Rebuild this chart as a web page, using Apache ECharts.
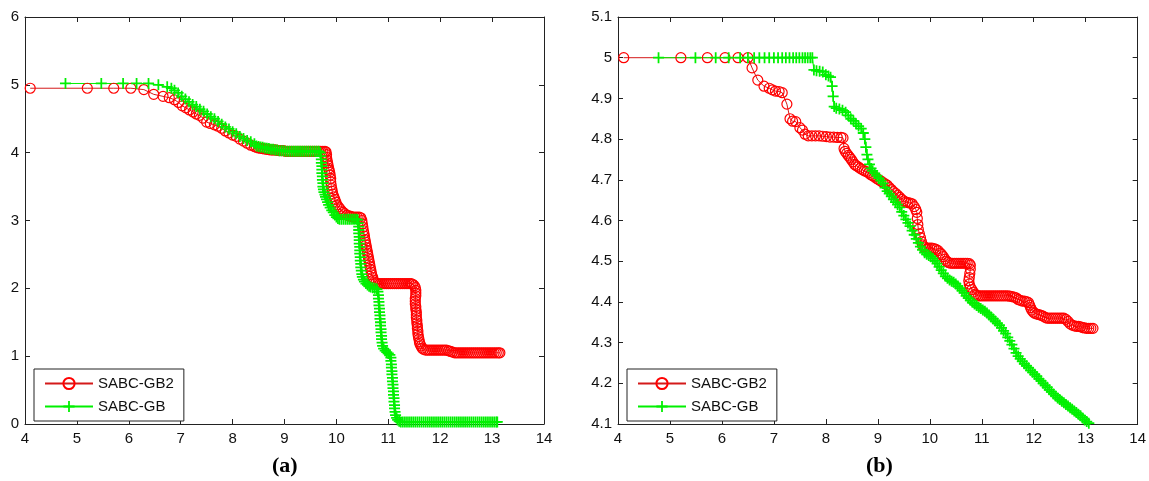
<!DOCTYPE html>
<html>
<head>
<meta charset="utf-8">
<script src="https://cdn.jsdelivr.net/npm/echarts@6/dist/echarts.min.js"></script>
<style>
  html, body { margin: 0; padding: 0; background: #fff; }
  #chart { width: 1149px; height: 481px; }
</style>
</head>
<body>
<div id="chart"></div>
<script>
// series names
var names = ['SABC-GB2', 'SABC-GB'];
var captions = ['(a)', '(b)'];

// panel (a) : [x, y]
var gb2A = [
  [4.1,4.95],[5.2,4.95],[5.71,4.95],[6.04,4.95],[6.29,4.93],[6.48,4.86],[6.66,4.83],[6.78,4.81],[6.88,4.78],
  [6.96,4.74],[7.03,4.69],[7.1,4.66],[7.17,4.63],[7.24,4.6],[7.3,4.57],[7.36,4.55],[7.43,4.51],[7.5,4.45],
  [7.57,4.43],[7.65,4.41],[7.72,4.39],[7.79,4.36],[7.86,4.32],[7.93,4.29],[8.0,4.26],[8.07,4.24],[8.14,4.2],
  [8.21,4.17],[8.28,4.14],[8.35,4.11],[8.42,4.09],[8.46,4.08],[8.5,4.07],[8.54,4.065],[8.58,4.06],[8.62,4.055],
  [8.66,4.05],[8.7,4.045],[8.74,4.04],[8.78,4.04],[8.82,4.04],[8.86,4.035],[8.9,4.03],[8.94,4.03],[8.98,4.03],
  [9.02,4.02],[9.06,4.02],[9.1,4.02],[9.14,4.02],[9.18,4.02],[9.22,4.02],[9.26,4.02],[9.3,4.02],[9.34,4.02],
  [9.38,4.02],[9.42,4.02],[9.46,4.02],[9.5,4.02],[9.54,4.02],[9.58,4.02],[9.62,4.02],[9.66,4.02],[9.7,4.02],
  [9.74,4.02],[9.78,4.02],[9.8,4.01],
  [9.81,3.97],[9.81,3.93],[9.82,3.89],[9.83,3.85],[9.84,3.81],[9.85,3.77],[9.86,3.74],[9.87,3.71],[9.88,3.67],
  [9.89,3.62],[9.89,3.57],[9.9,3.52],[9.91,3.47],[9.92,3.43],[9.93,3.39],[9.95,3.35],[9.97,3.31],[9.99,3.27],
  [10.01,3.23],[10.04,3.2],[10.07,3.17],[10.1,3.14],[10.13,3.12],[10.16,3.1],[10.2,3.08],[10.24,3.07],
  [10.28,3.06],[10.32,3.05],[10.36,3.05],[10.4,3.05],[10.44,3.05],[10.47,3.04],
  [10.49,3.0],[10.5,2.95],[10.51,2.9],[10.52,2.85],[10.53,2.81],[10.54,2.77],[10.55,2.72],[10.56,2.68],
  [10.57,2.64],[10.58,2.6],[10.59,2.56],[10.6,2.52],[10.61,2.48],[10.62,2.44],[10.63,2.4],[10.64,2.36],
  [10.65,2.32],[10.66,2.28],[10.67,2.24],[10.68,2.2],[10.7,2.16],[10.71,2.12],[10.73,2.09],[10.76,2.08],
  [10.8,2.07],[10.84,2.07],[10.88,2.07],[10.92,2.07],[10.96,2.07],[11.0,2.07],[11.04,2.07],[11.08,2.07],
  [11.12,2.07],[11.16,2.07],[11.2,2.07],[11.24,2.07],[11.28,2.07],[11.32,2.07],[11.36,2.07],[11.4,2.07],
  [11.44,2.07],[11.47,2.06],[11.5,2.04],[11.52,2.01],
  [11.53,1.97],[11.53,1.93],[11.53,1.89],[11.52,1.85],[11.52,1.81],[11.52,1.77],[11.53,1.73],[11.53,1.69],
  [11.54,1.65],[11.54,1.61],[11.54,1.57],[11.55,1.53],[11.55,1.49],[11.56,1.45],[11.56,1.41],[11.57,1.37],
  [11.57,1.33],[11.58,1.29],[11.59,1.25],[11.6,1.21],[11.61,1.18],[11.63,1.15],[11.65,1.12],[11.68,1.1],
  [11.72,1.09],[11.76,1.09],[11.8,1.09],[11.84,1.09],[11.88,1.09],[11.92,1.09],[11.96,1.09],[12.0,1.09],
  [12.04,1.09],[12.08,1.09],[12.12,1.09],[12.16,1.08],[12.2,1.07],[12.24,1.06],[12.28,1.05],[12.32,1.05],
  [12.36,1.05],[12.4,1.05],[12.44,1.05],[12.48,1.05],[12.52,1.05],[12.56,1.05],[12.6,1.05],[12.64,1.05],
  [12.68,1.05],[12.72,1.05],[12.76,1.05],[12.8,1.05],[12.84,1.05],[12.88,1.05],[12.92,1.05],[12.96,1.05],
  [13.0,1.05],[13.04,1.05],[13.08,1.05],[13.12,1.05],[13.15,1.05]
];
var gbA = [
  [4.78,5.02],[5.47,5.02],[5.89,5.02],[6.15,5.02],[6.38,5.02],[6.57,5.0],[6.74,4.97],[6.82,4.95],[6.88,4.92],
  [6.95,4.88],[7.02,4.83],[7.09,4.79],[7.16,4.75],[7.23,4.71],[7.3,4.68],[7.37,4.64],[7.44,4.61],[7.51,4.57],
  [7.58,4.53],[7.65,4.5],[7.72,4.46],[7.79,4.42],[7.86,4.38],[7.93,4.35],[8.0,4.31],[8.07,4.28],[8.14,4.24],
  [8.21,4.21],[8.28,4.18],[8.35,4.16],[8.42,4.13],[8.46,4.1],[8.5,4.09],[8.54,4.085],[8.58,4.08],[8.62,4.07],
  [8.66,4.065],[8.7,4.06],[8.74,4.05],[8.78,4.05],[8.82,4.04],[8.86,4.04],[8.9,4.03],[8.94,4.03],[8.98,4.03],
  [9.02,4.02],[9.06,4.02],[9.1,4.02],[9.14,4.02],[9.18,4.02],[9.22,4.02],[9.26,4.02],[9.3,4.02],[9.34,4.02],
  [9.38,4.02],[9.42,4.02],[9.46,4.02],[9.5,4.02],[9.54,4.02],[9.58,4.02],[9.62,4.02],[9.66,4.02],[9.69,4.0],
  [9.7,3.95],[9.71,3.9],[9.71,3.85],[9.72,3.8],[9.72,3.75],[9.72,3.7],[9.73,3.65],[9.73,3.6],[9.74,3.55],
  [9.74,3.5],[9.75,3.46],[9.76,3.42],[9.78,3.38],[9.79,3.35],[9.81,3.31],[9.83,3.27],[9.85,3.23],[9.88,3.19],
  [9.91,3.15],[9.94,3.12],[9.97,3.08],[10.0,3.05],[10.03,3.03],[10.06,3.02],[10.1,3.02],[10.14,3.02],
  [10.18,3.02],[10.22,3.02],[10.26,3.02],[10.3,3.02],[10.34,3.02],[10.38,3.02],[10.41,3.01],
  [10.42,2.96],[10.43,2.91],[10.43,2.86],[10.43,2.81],[10.44,2.76],[10.44,2.71],[10.44,2.66],[10.45,2.61],
  [10.45,2.56],[10.45,2.51],[10.46,2.46],[10.46,2.41],[10.47,2.36],[10.47,2.31],[10.48,2.26],[10.49,2.21],
  [10.5,2.17],[10.52,2.13],[10.54,2.1],[10.57,2.07],[10.6,2.05],[10.63,2.03],[10.66,2.02],[10.7,2.01],
  [10.74,2.0],[10.78,1.99],
  [10.8,1.95],[10.81,1.9],[10.81,1.85],[10.82,1.8],[10.82,1.75],[10.83,1.7],[10.83,1.65],[10.84,1.6],
  [10.84,1.55],[10.85,1.5],[10.85,1.45],[10.86,1.4],[10.86,1.35],[10.87,1.3],[10.87,1.25],[10.88,1.2],
  [10.89,1.15],[10.91,1.11],[10.94,1.08],[10.97,1.06],[11.0,1.04],[11.03,1.02],
  [11.05,0.98],[11.05,0.93],[11.06,0.88],[11.06,0.83],[11.07,0.78],[11.07,0.73],[11.08,0.68],[11.08,0.63],
  [11.09,0.58],[11.09,0.53],[11.1,0.48],[11.1,0.43],[11.11,0.38],[11.11,0.33],[11.12,0.28],[11.12,0.23],
  [11.13,0.18],[11.14,0.13],[11.16,0.09],[11.18,0.06],[11.21,0.04],[11.24,0.03],
  [11.28,0.03],[11.32,0.03],[11.36,0.03],[11.4,0.03],[11.44,0.03],[11.48,0.03],[11.52,0.03],[11.56,0.03],
  [11.6,0.03],[11.64,0.03],[11.68,0.03],[11.72,0.03],[11.76,0.03],[11.8,0.03],[11.84,0.03],[11.88,0.03],
  [11.92,0.03],[11.96,0.03],[12.0,0.03],[12.04,0.03],[12.08,0.03],[12.12,0.03],[12.16,0.03],[12.2,0.03],
  [12.24,0.03],[12.28,0.03],[12.32,0.03],[12.36,0.03],[12.4,0.03],[12.44,0.03],[12.48,0.03],[12.52,0.03],
  [12.56,0.03],[12.6,0.03],[12.64,0.03],[12.68,0.03],[12.72,0.03],[12.76,0.03],[12.8,0.03],[12.84,0.03],
  [12.88,0.03],[12.92,0.03],[12.96,0.03],[13.0,0.03],[13.04,0.03],[13.08,0.03],[13.1,0.03]
];

// panel (b) : [x, y]
var gb2B = [
  [4.11,5.0],[5.21,5.0],[5.72,5.0],[6.06,5.0],[6.31,5.0],[6.5,5.0],[6.58,4.975],[6.69,4.945],[6.81,4.93],
  [6.91,4.925],[6.97,4.921],[7.03,4.918],[7.1,4.917],[7.16,4.914],[7.25,4.886],[7.31,4.85],[7.36,4.844],
  [7.42,4.843],[7.5,4.828],[7.55,4.822],[7.6,4.812],[7.66,4.808],[7.73,4.808],[7.8,4.808],[7.87,4.808],
  [7.94,4.807],[8.01,4.806],[8.08,4.805],[8.15,4.805],[8.22,4.804],[8.29,4.804],[8.33,4.803],
  [8.35,4.777],[8.37,4.77],[8.4,4.765],[8.43,4.76],[8.46,4.755],[8.49,4.75],[8.52,4.744],[8.55,4.738],
  [8.58,4.735],[8.62,4.732],[8.66,4.728],[8.7,4.725],[8.74,4.722],[8.78,4.72],[8.82,4.717],[8.86,4.713],
  [8.9,4.71],[8.94,4.707],[8.98,4.703],[9.02,4.7],[9.06,4.697],[9.1,4.693],[9.14,4.69],[9.18,4.687],
  [9.22,4.681],[9.26,4.676],[9.3,4.671],[9.34,4.667],[9.38,4.662],[9.42,4.657],[9.46,4.652],[9.5,4.648],
  [9.54,4.645],[9.58,4.644],[9.62,4.643],[9.66,4.641],[9.7,4.634],[9.73,4.627],[9.75,4.62],[9.76,4.605],
  [9.77,4.59],[9.78,4.578],[9.8,4.567],[9.82,4.558],[9.84,4.548],[9.86,4.54],[9.89,4.535],[9.92,4.533],
  [9.96,4.532],[10.0,4.532],[10.04,4.532],[10.08,4.531],[10.12,4.529],[10.16,4.526],[10.2,4.52],
  [10.23,4.516],[10.26,4.511],[10.29,4.505],[10.32,4.5],[10.36,4.497],[10.4,4.495],[10.44,4.495],
  [10.48,4.495],[10.52,4.495],[10.56,4.495],[10.6,4.495],[10.64,4.495],[10.68,4.495],[10.72,4.495],
  [10.76,4.494],[10.78,4.49],[10.78,4.48],[10.77,4.47],[10.76,4.46],[10.75,4.452],[10.76,4.444],
  [10.78,4.436],[10.81,4.43],[10.84,4.424],[10.87,4.419],[10.9,4.416],[10.94,4.415],[10.98,4.415],
  [11.02,4.415],[11.06,4.415],[11.1,4.415],[11.14,4.415],[11.18,4.415],[11.22,4.415],[11.26,4.415],
  [11.3,4.415],[11.34,4.415],[11.38,4.415],[11.42,4.415],[11.46,4.415],[11.5,4.415],[11.54,4.414],
  [11.58,4.413],[11.62,4.412],[11.66,4.41],[11.7,4.406],[11.74,4.404],[11.78,4.402],[11.82,4.402],
  [11.86,4.401],[11.9,4.398],[11.92,4.392],[11.94,4.386],[11.96,4.38],[11.99,4.375],[12.02,4.372],
  [12.06,4.37],[12.1,4.369],[12.14,4.367],[12.18,4.365],[12.22,4.362],[12.26,4.36],[12.3,4.36],
  [12.34,4.36],[12.38,4.36],[12.42,4.36],[12.46,4.36],[12.5,4.36],[12.54,4.36],[12.58,4.36],[12.62,4.357],
  [12.66,4.352],[12.7,4.346],[12.74,4.343],[12.78,4.341],[12.82,4.34],[12.86,4.34],[12.9,4.339],
  [12.94,4.337],[12.98,4.336],[13.02,4.335],[13.06,4.335],[13.1,4.335],[13.14,4.335]
];
var gbB = [
  [4.78,5.0],[5.49,5.0],[5.88,5.0],[6.13,5.0],[6.35,5.0],[6.5,5.0],[6.62,5.0],[6.72,5.0],[6.82,5.0],
  [6.91,5.0],[7.0,5.0],[7.08,5.0],[7.16,5.0],[7.23,5.0],[7.3,5.0],[7.37,5.0],[7.43,5.0],[7.49,5.0],
  [7.55,5.0],[7.6,5.0],[7.65,5.0],[7.7,5.0],[7.74,5.0],[7.77,4.97],[7.82,4.968],[7.88,4.967],[7.94,4.965],
  [8.0,4.958],[8.05,4.955],[8.09,4.952],[8.12,4.93],[8.14,4.905],[8.16,4.88],[8.2,4.876],[8.26,4.874],
  [8.32,4.871],[8.38,4.866],[8.43,4.858],[8.48,4.85],[8.53,4.845],[8.58,4.838],[8.63,4.832],[8.68,4.826],
  [8.72,4.815],[8.75,4.8],[8.77,4.78],[8.79,4.762],[8.81,4.75],[8.84,4.738],[8.87,4.728],[8.9,4.722],
  [8.94,4.716],[8.98,4.71],[9.02,4.704],[9.06,4.698],[9.1,4.691],[9.14,4.681],[9.18,4.672],[9.22,4.666],
  [9.26,4.659],[9.3,4.652],[9.34,4.645],[9.38,4.639],[9.42,4.632],[9.46,4.621],[9.5,4.612],[9.54,4.603],
  [9.58,4.594],[9.62,4.586],[9.66,4.575],[9.7,4.565],[9.74,4.555],[9.78,4.545],[9.82,4.536],[9.86,4.528],
  [9.9,4.521],[9.94,4.517],[9.98,4.514],[10.02,4.511],[10.06,4.507],[10.1,4.501],[10.14,4.494],[10.18,4.486],
  [10.22,4.478],[10.26,4.47],[10.3,4.463],[10.34,4.458],[10.38,4.454],[10.42,4.451],[10.46,4.448],
  [10.5,4.444],[10.54,4.439],[10.58,4.434],[10.62,4.428],[10.66,4.422],[10.7,4.415],[10.74,4.409],
  [10.78,4.404],[10.82,4.399],[10.86,4.395],[10.9,4.391],[10.94,4.387],[10.98,4.384],[11.02,4.38],
  [11.06,4.377],[11.1,4.373],[11.14,4.368],[11.18,4.363],[11.22,4.358],[11.26,4.353],[11.3,4.348],
  [11.34,4.343],[11.38,4.336],[11.42,4.329],[11.46,4.322],[11.5,4.313],[11.54,4.304],[11.58,4.295],
  [11.62,4.285],[11.66,4.275],[11.7,4.267],[11.74,4.26],[11.78,4.254],[11.82,4.248],[11.86,4.243],
  [11.9,4.238],[11.94,4.232],[11.98,4.227],[12.02,4.222],[12.06,4.217],[12.1,4.211],[12.14,4.206],
  [12.18,4.2],[12.22,4.195],[12.26,4.19],[12.3,4.184],[12.34,4.179],[12.38,4.174],[12.42,4.169],
  [12.46,4.164],[12.5,4.16],[12.54,4.156],[12.58,4.152],[12.62,4.148],[12.66,4.144],[12.7,4.14],
  [12.74,4.136],[12.78,4.132],[12.82,4.128],[12.86,4.124],[12.9,4.12],[12.94,4.115],[12.98,4.11],
  [13.02,4.106],[13.06,4.102],[13.1,4.098]
];

var chart = echarts.init(document.getElementById('chart'), null, { renderer: 'canvas' });

var FONT = 'Liberation Sans, Arial, sans-serif';
var AXIS_COLOR = '#222';
var RED = '#ff0000';
var RED_LINE = '#d41a1a';
var GREEN = '#00f000';
var PLUS = 'path://M4.2,0h1.6v4.2h4.2v1.6h-4.2v4.2h-1.6v-4.2h-4.2v-1.6h4.2z';

function xAxisFor(grid, pos, showLabel) {
  return {
    type: 'value', gridIndex: grid, position: pos, min: 4, max: 14, interval: 1,
    axisLine: { show: true, onZero: false, lineStyle: { color: AXIS_COLOR, width: 1 } },
    axisTick: { show: true, inside: true, length: 5, lineStyle: { color: AXIS_COLOR } },
    axisLabel: { show: showLabel, margin: 7, fontSize: 15, color: '#111', fontFamily: FONT },
    splitLine: { show: false }
  };
}
function yAxisFor(grid, pos, min, max, step, showLabel) {
  return {
    type: 'value', gridIndex: grid, position: pos, min: min, max: max, interval: step,
    axisLine: { show: true, onZero: false, lineStyle: { color: AXIS_COLOR, width: 1 } },
    axisTick: { show: true, inside: true, length: 5, lineStyle: { color: AXIS_COLOR } },
    axisLabel: {
      show: showLabel, margin: 6, fontSize: 15, color: '#111', fontFamily: FONT,
      formatter: function (v) { return String(Math.round(v * 10) / 10); }
    },
    splitLine: { show: false }
  };
}
function redSeries(xi, yi, data) {
  return {
    name: names[0], type: 'line', xAxisIndex: xi, yAxisIndex: yi, data: data,
    symbol: 'circle', symbolSize: 10, showAllSymbol: true,
    itemStyle: { color: 'rgba(255,255,255,0)', borderColor: RED, borderWidth: 1.2 },
    lineStyle: { color: RED_LINE, width: 1 },
    emphasis: { disabled: true }
  };
}
function greenSeries(xi, yi, data) {
  return {
    name: names[1], type: 'line', xAxisIndex: xi, yAxisIndex: yi, data: data,
    symbol: PLUS, symbolSize: 11, showAllSymbol: true,
    itemStyle: { color: GREEN, borderWidth: 0 },
    lineStyle: { color: GREEN, width: 1 },
    emphasis: { disabled: true }
  };
}
function legendAt(left) {
  return {
    left: left, top: 369, orient: 'vertical', data: names,
    itemWidth: 48, itemHeight: 14, itemGap: 8, padding: [7, 10, 7, 10],
    borderColor: AXIS_COLOR, borderWidth: 1, backgroundColor: '#fff',
    textStyle: { fontSize: 15, color: '#111', fontFamily: FONT },
    selectedMode: false
  };
}

var option = {
  animation: false,
  backgroundColor: '#fff',
  grid: [
    { left: 25, right: 605, top: 17, bottom: 57 },
    { left: 618, right: 11, top: 17, bottom: 57 }
  ],
  xAxis: [
    xAxisFor(0, 'bottom', true), xAxisFor(0, 'top', false),
    xAxisFor(1, 'bottom', true), xAxisFor(1, 'top', false)
  ],
  yAxis: [
    yAxisFor(0, 'left', 0, 6, 1, true), yAxisFor(0, 'right', 0, 6, 1, false),
    yAxisFor(1, 'left', 4.1, 5.1, 0.1, true), yAxisFor(1, 'right', 4.1, 5.1, 0.1, false)
  ],
  legend: [legendAt(34), legendAt(627)],
  series: [
    redSeries(0, 0, gb2A), greenSeries(0, 0, gbA),
    redSeries(2, 2, gb2B), greenSeries(2, 2, gbB)
  ],
  graphic: [
    { type: 'text', left: 272, top: 455, style: { text: captions[0], font: 'bold 22px "Liberation Serif", "Times New Roman", serif', fill: '#000' } },
    { type: 'text', left: 866, top: 455, style: { text: captions[1], font: 'bold 22px "Liberation Serif", "Times New Roman", serif', fill: '#000' } }
  ]
};

chart.setOption(option);
</script>
</body>
</html>
